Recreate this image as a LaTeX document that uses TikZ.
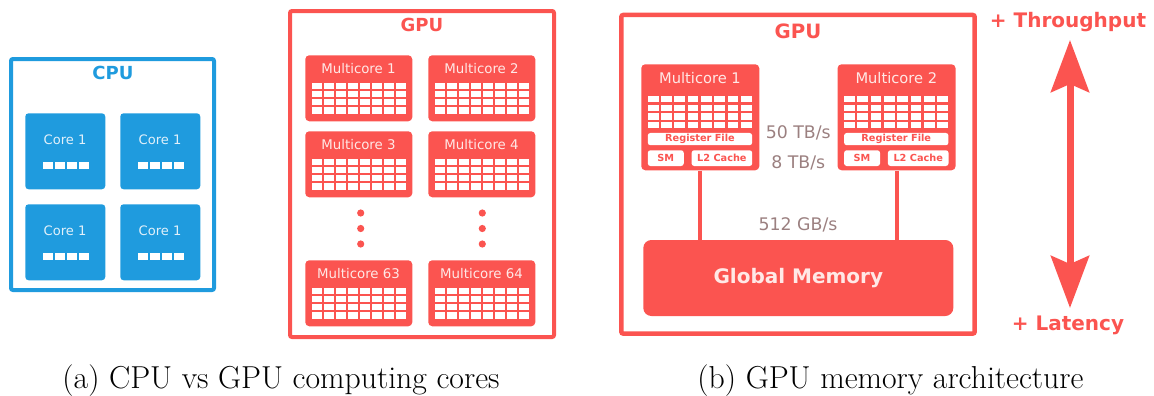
\documentclass[tikz,border=0pt]{standalone}
\usepackage{fontspec}
\newfontfamily\dejavu{DejaVu Sans}
\usetikzlibrary{arrows.meta,calc}
\definecolor{cpublue}{RGB}{31,155,222}
\definecolor{gpured}{RGB}{251,84,80}
\definecolor{bwgrey}{RGB}{155,128,128}
\definecolor{pinkw}{RGB}{255,232,230}
\definecolor{bluew}{RGB}{225,240,250}
\tikzset{bigtip/.tip={Stealth[length=39pt,width=28.5pt,inset=6pt]}}
\begin{document}
\begin{tikzpicture}[x=0.75pt,y=-0.75pt,
 frame/.style={line width=3pt,rounded corners=1.5pt,inner sep=0},
 cpuframe/.style={frame,draw=cpublue,minimum width=152.25pt,minimum height=173.25pt},
 gpuframeA/.style={frame,draw=gpured,minimum width=198pt,minimum height=244.5pt},
 gpuframeB/.style={frame,draw=gpured,line width=3.4pt,minimum width=265pt,minimum height=239pt},
 titleA/.style={font=\dejavu\bfseries\fontsize{13.5}{16}\selectfont,inner sep=0},
 titleB/.style={font=\dejavu\bfseries\fontsize{14.8}{17}\selectfont,inner sep=0,text=gpured},
 core/.style={fill=cpublue,rounded corners=2.5pt,inner sep=0,anchor=north west,minimum width=60pt,minimum height=57pt},
 coretext/.style={font=\dejavu\fontsize{9.8}{12}\selectfont,text=bluew,inner sep=0},
 mcA/.style={fill=gpured,rounded corners=3pt,inner sep=0,anchor=north west,minimum width=80.25pt,minimum height=49.5pt},
 mcB/.style={fill=gpured,rounded corners=3pt,inner sep=0,anchor=north west,minimum width=88.5pt,minimum height=79.5pt},
 mctextA/.style={font=\dejavu\fontsize{10}{12}\selectfont,text=pinkw,inner sep=0},
 mctextB/.style={font=\dejavu\fontsize{11}{13}\selectfont,text=pinkw,inner sep=0},
 wbox/.style={fill=white,rounded corners=2pt,inner sep=0,anchor=north west,font=\dejavu\bfseries\fontsize{7.3}{9}\selectfont,text=gpured,minimum height=11.8pt},
 bw/.style={font=\dejavu\fontsize{13}{15}\selectfont,text=bwgrey,inner sep=0},
 dotn/.style={circle,fill=gpured,inner sep=0,minimum size=5.4pt},
 side/.style={font=\dejavu\bfseries\fontsize{15}{18}\selectfont,text=gpured,inner sep=0},
 caption/.style={font=\fontsize{23.8}{28}\selectfont,anchor=base,inner sep=0},
 link/.style={draw=gpured,line width=3pt}
]
\useasboundingbox (0,0) rectangle (1154,396);

% ---------- (a) CPU ----------
\node[cpuframe] (cpu) at (112.5,174.5) {};
\node[titleA,text=cpublue] (cputitle) at (113,73) {CPU};
\foreach \n/\x/\y in {c1/25/113, c2/120/113, c3/25/204, c4/120/204}{
  \node[core] (\n) at (\x,\y) {};
  \node[coretext] (\n t) at ([shift={(40,26.5)}]\n.north west) {Core 1};
  \foreach \i in {0,...,3}
    \fill[white] ([shift={({18+\i*12},49.3)}]\n.north west) rectangle ++(9.7,6.4);
}

% ---------- (a) GPU ----------
\node[gpuframeA] (gpuA) at (422,174) {};
\node[titleA,text=gpured] (gpuAtitle) at (422,25) {GPU};
\foreach \n/\x/\y/\t in {m1/305/55/Multicore 1, m2/428/55/Multicore 2, m3/305/131/Multicore 3, m4/428/131/Multicore 4, m63/305/260/Multicore 63, m64/428/260/Multicore 64}{
  \node[mcA] (\n) at (\x,\y) {};
  \node[mctextA] (\n t) at ([shift={(53.5,13.5)}]\n.north west) {\t};
  \foreach \i in {0,...,7}
    \foreach \j in {0,...,3}
      \fill[white] ([shift={({7+\i*12},{27.7+\j*8.1})}]\n.north west) rectangle ++(10,6.5);
}
\node[dotn] (d1) at (360.7,213) {};
\node[dotn] (d2) at (360.7,228.5) {};
\node[dotn] (d3) at (360.7,244) {};
\node[dotn] (d4) at (482.3,213) {};
\node[dotn] (d5) at (482.3,228.5) {};
\node[dotn] (d6) at (482.3,244) {};

% ---------- (b) GPU memory ----------
\node[gpuframeB] (gpuB) at (798,174.3) {};
\node[titleB] (gpuBtitle) at (798,31) {GPU};
\node[fill=gpured,rounded corners=6pt,inner sep=0,minimum width=232.5pt,minimum height=57pt,
      text=pinkw,font=\dejavu\bfseries\fontsize{15}{18}\selectfont] (gm) at (798.3,278) {Global Memory};
\foreach \n/\x/\t in {b1/641/Multicore 1, b2/837.3/Multicore 2}{
  \node[mcB] (\n) at (\x,64) {};
  \node[mctextB] (\n t) at ([shift={(59,14.5)}]\n.north west) {\t};
  \foreach \i in {0,...,7}
    \foreach \j in {0,...,3}
      \fill[white] ([shift={({6.8+\i*13.3},{31.7+\j*8.8})}]\n.north west) rectangle ++(10.7,6.2);
  \node[wbox,minimum width=78.3pt,minimum height=9.2pt] (\n rf) at ([shift={(6.5,68.7)}]\n.north west) {Register File};
  \node[wbox,minimum width=27pt] (\n sm) at ([shift={(6.5,86)}]\n.north west) {SM};
  \node[wbox,minimum width=45.5pt] (\n l2) at ([shift={(50.3,86)}]\n.north west) {L2 Cache};
  \draw[link] (\n.south) -- (\n.south |- gm.north);
}
\node[bw] (bw1) at (798.3,133.3) {50 TB/s};
\node[bw] (bw2) at (798.3,163.3) {8 TB/s};
\node[bw] (bw3) at (798,225) {512 GB/s};

% ---------- side arrow ----------
\node[side] (thr) at (1068,22) {+ Throughput};
\node[side] (lat) at (1068,325.5) {+ Latency};
\coordinate (arTop) at (1070,40);
\coordinate (arBot) at (1070,308);
\draw[gpured,line width=5.25pt,{bigtip}-{bigtip}] (arTop) -- (arBot);

% ---------- captions ----------
\node[caption] (capA) at (281,388) {(a) CPU vs GPU computing cores};
\node[caption] (capB) at (890.5,388) {(b) GPU memory architecture};
\end{tikzpicture}
\end{document}
